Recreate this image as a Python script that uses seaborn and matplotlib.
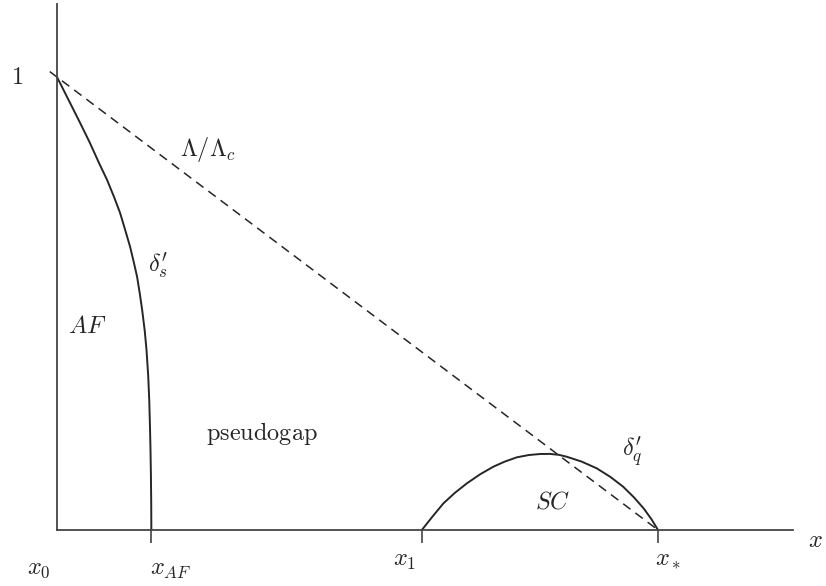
import matplotlib
matplotlib.use("Agg")
import matplotlib.pyplot as plt
import seaborn as sns
import pandas as pd

# Characteristic dopings on the x axis
x_points = [0.0, 0.157, 0.607, 1.0]
x_labels = [r"$x_0$", r"$x_{AF}$", r"$x_1$", r"$x_*$"]

# Antiferromagnetic boundary delta'_s
af_x = [0.0, 0.0217, 0.038, 0.055, 0.070, 0.0833, 0.095, 0.105, 0.114, 0.1217,
        0.128, 0.1333, 0.138, 0.1417, 0.1460, 0.1490, 0.1518, 0.1535, 0.1547,
        0.1556, 0.1563, 0.1568, 0.157]
af_y = [1.0, 0.943, 0.900, 0.854, 0.810, 0.773, 0.735, 0.700, 0.660, 0.625,
        0.590, 0.559, 0.520, 0.486, 0.440, 0.397, 0.340, 0.287, 0.230,
        0.177, 0.120, 0.060, 0.0]

# Superconducting dome delta'_q
sc_x = [0.607, 0.625, 0.643, 0.662, 0.682, 0.704, 0.726, 0.745, 0.765, 0.785,
        0.804, 0.820, 0.835, 0.848, 0.873, 0.898, 0.921, 0.942, 0.960, 0.976,
        0.989, 1.0]
sc_y = [0.0, 0.030, 0.0589, 0.082, 0.1030, 0.123, 0.1397, 0.151, 0.1604, 0.1655,
        0.1678, 0.1680, 0.1660, 0.1618, 0.151, 0.1362, 0.117, 0.0956, 0.072, 0.0479,
        0.024, 0.0]

# Lambda / Lambda_c line
lam_x = [-0.012, 1.0]
lam_y = [1.012, 0.0]

sns.set_style("white")
plt.rcParams["mathtext.fontset"] = "cm"
plt.rcParams["font.family"] = ["DejaVu Serif"]

ink = "#262626"
fs = 17.5

fig = plt.figure(figsize=(8.26, 5.86), dpi=100)
ax = fig.add_axes([0, 0, 1, 1])

for cx, cy in ((af_x, af_y), (sc_x, sc_y)):
    sns.lineplot(data=pd.DataFrame({"x": cx, "y": cy}), x="x", y="y",
                 sort=False, estimator=None, color=ink, lw=1.4, ax=ax)
    ax.lines[-1].set_solid_joinstyle("round")
sns.lineplot(data=pd.DataFrame({"x": lam_x, "y": lam_y}), x="x", y="y",
             sort=False, estimator=None, color=ink, lw=1.1, ax=ax)
ax.lines[-1].set_dashes([6, 4])

ax.set_xlim(-0.0948, 1.2795)
ax.set_ylim(-0.1236, 1.170)

for side in ("top", "right"):
    ax.spines[side].set_visible(False)
ax.spines["left"].set_position(("data", 0))
ax.spines["bottom"].set_position(("data", 0))
ax.spines["left"].set_bounds(0, 1.161)
ax.spines["bottom"].set_bounds(0, 1.2246)
for side in ("left", "bottom"):
    ax.spines[side].set_color("#444444")
    ax.spines[side].set_linewidth(1.3)

ax.set_xticks(x_points[1:])
ax.set_xticklabels([])
ax.set_yticks([])
ax.tick_params(axis="x", direction="out", length=9.5, width=1.2,
               color="#444444", bottom=True)
ax.set_xlabel("")
ax.set_ylabel("")

# Tick labels along the x axis
label_pos = [(-0.030, -0.086), (0.190, -0.088), (0.579, -0.068), (1.017, -0.066)]
for lab, (tx, ty) in zip(x_labels, label_pos):
    ax.text(tx, ty, lab, fontsize=fs, color=ink, ha="center", va="center")

ax.text(1.262, -0.024, r"$x$", fontsize=fs, color=ink, ha="center", va="center")
ax.text(-0.0666, 1.0, r"$1$", fontsize=fs, color=ink, ha="center", va="center")

# Region and curve annotations
ax.text(0.2047, 0.841, r"$\Lambda/\Lambda_c$", fontsize=fs, color=ink, ha="left", va="center")
ax.text(0.151, 0.585, r"$\delta^{\prime}_{s}$", fontsize=fs, color=ink, ha="left", va="center")
ax.text(0.05, 0.45, r"$AF$", fontsize=fs, color=ink, ha="center", va="center")
ax.text(0.341, 0.214, r"$\mathrm{pseudogap}$", fontsize=fs, color=ink, ha="center", va="center")
ax.text(0.825, 0.062, r"$SC$", fontsize=fs, color=ink, ha="center", va="center")
ax.text(0.940, 0.172, r"$\delta^{\prime}_{q}$", fontsize=fs, color=ink, ha="left", va="center")

fig.savefig("out.png", dpi=100, facecolor="white")
